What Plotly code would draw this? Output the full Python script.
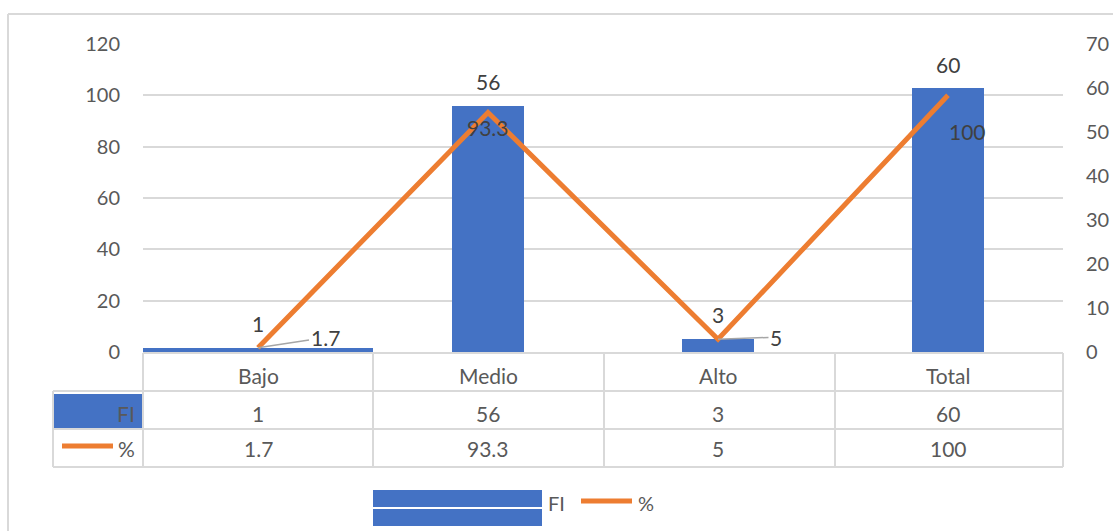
import plotly.graph_objects as go

# ---- data ----
categories = ["Bajo", "Medio", "Alto", "Total"]
fi_values = [1, 56, 3, 60]
pct_values = [1.7, 93.3, 5, 100]
left_ticks = [0, 20, 40, 60, 80, 100, 120]
right_ticks = [0, 10, 20, 30, 40, 50, 60, 70]

# ---- styles ----
BLUE = "#4472C4"
ORANGE = "#ED7D31"
GRID = "#D9D9D9"
TXT = "#595959"
LBL = "#404040"
FONT = "Lato"

W, H = 1113, 531
L, R, T, B = 143, 1063, 44, 352


def PX(px):
    return (px - L) / (R - L)


def PY(py):
    return (B - py) / (B - T)


def fmt(v):
    return f"{v:g}"


fig = go.Figure()

bar_widths = [1.0, 0.313, 0.313, 0.313]
fig.add_trace(go.Bar(x=categories, y=fi_values, name="FI", marker_color=BLUE,
                     marker_line_width=0, width=bar_widths, yaxis="y",
                     showlegend=False, hoverinfo="skip"))
fig.add_trace(go.Scatter(x=categories, y=pct_values, name="%", mode="lines",
                         line=dict(color=ORANGE, width=5), yaxis="y2",
                         showlegend=False, hoverinfo="skip"))

annotations = []
shapes = []

# bar value labels
for c, v in zip(categories, fi_values):
    annotations.append(dict(x=c, y=v, xref="x", yref="y", text=str(v), showarrow=False,
                            yanchor="middle", yshift=24,
                            font=dict(family=FONT, size=21, color=LBL)))

# line value labels (offsets in pixels)
line_label_style = {
    "Bajo": dict(arrow=True, ax=67, ay=-10),
    "Medio": dict(arrow=False, dx=0, dy=-15),
    "Alto": dict(arrow=True, ax=58, ay=-2),
    "Total": dict(arrow=False, dx=19, dy=-36),
}
for c, v in zip(categories, pct_values):
    st = line_label_style[c]
    if st["arrow"]:
        annotations.append(dict(x=c, y=v, xref="x", yref="y2", text=fmt(v), showarrow=True,
                                ax=st["ax"], ay=st["ay"], arrowhead=0, arrowwidth=1.5,
                                arrowcolor="#A6A6A6", standoff=0,
                                font=dict(family=FONT, size=21, color=LBL)))
    else:
        annotations.append(dict(x=c, y=v, xref="x", yref="y2", text=fmt(v), showarrow=False,
                                yanchor="middle", xshift=st["dx"], yshift=st["dy"],
                                font=dict(family=FONT, size=21, color=LBL)))

# data table texts
for i, c in enumerate(categories):
    annotations.append(dict(x=c, y=PY(375), xref="x", yref="paper", text=c, showarrow=False,
                            yanchor="middle", font=dict(family=FONT, size=21, color=TXT)))
    annotations.append(dict(x=c, y=PY(413), xref="x", yref="paper", text=str(fi_values[i]),
                            yanchor="middle", showarrow=False,
                            font=dict(family=FONT, size=21, color=TXT)))
    annotations.append(dict(x=c, y=PY(448), xref="x", yref="paper", text=fmt(pct_values[i]),
                            yanchor="middle", showarrow=False,
                            font=dict(family=FONT, size=21, color=TXT)))

# table legend keys
shapes.append(dict(type="rect", xref="paper", yref="paper", x0=PX(53), x1=PX(143),
                   y0=PY(429), y1=PY(394), fillcolor=BLUE, line=dict(width=0), layer="below"))
shapes.append(dict(type="line", xref="paper", yref="paper", x0=PX(62), x1=PX(113),
                   y0=PY(446), y1=PY(446), line=dict(color=ORANGE, width=5)))
annotations.append(dict(x=PX(137), y=PY(413), xref="paper", yref="paper", text="FI",
                        xanchor="right", yanchor="middle", showarrow=False,
                        font=dict(family=FONT, size=21, color=TXT)))
annotations.append(dict(x=PX(137), y=PY(448), xref="paper", yref="paper", text="%",
                        xanchor="right", yanchor="middle", showarrow=False,
                        font=dict(family=FONT, size=21, color=TXT)))

# table grid lines
hlines = [(353, 143, 1063), (391, 53, 1063), (429, 53, 1063), (467, 53, 1063)]
for y, x0, x1 in hlines:
    shapes.append(dict(type="line", xref="paper", yref="paper", x0=PX(x0), x1=PX(x1),
                       y0=PY(y), y1=PY(y), line=dict(color=GRID, width=2)))
vlines = [(53, 391, 467), (143, 353, 467), (373, 353, 467), (604, 353, 467),
          (835, 353, 467), (1063, 353, 467)]
for x, y0, y1 in vlines:
    shapes.append(dict(type="line", xref="paper", yref="paper", x0=PX(x), x1=PX(x),
                       y0=PY(y0), y1=PY(y1), line=dict(color=GRID, width=2)))

# chart border (top & left)
shapes.append(dict(type="line", xref="paper", yref="paper", x0=PX(8), x1=PX(1113),
                   y0=PY(14), y1=PY(14), line=dict(color=GRID, width=2)))
shapes.append(dict(type="line", xref="paper", yref="paper", x0=PX(8), x1=PX(8),
                   y0=PY(14), y1=PY(531), line=dict(color=GRID, width=2)))

# bottom legend
shapes.append(dict(type="rect", xref="paper", yref="paper", x0=PX(373), x1=PX(542),
                   y0=PY(507), y1=PY(490), fillcolor=BLUE, line=dict(width=0)))
shapes.append(dict(type="rect", xref="paper", yref="paper", x0=PX(373), x1=PX(542),
                   y0=PY(526), y1=PY(509), fillcolor=BLUE, line=dict(width=0)))
shapes.append(dict(type="line", xref="paper", yref="paper", x0=PX(581), x1=PX(632),
                   y0=PY(501), y1=PY(501), line=dict(color=ORANGE, width=5)))
annotations.append(dict(x=PX(546), y=PY(503), xref="paper", yref="paper", text="FI",
                        xanchor="left", yanchor="middle", showarrow=False,
                        font=dict(family=FONT, size=20, color=TXT)))
annotations.append(dict(x=PX(636), y=PY(503), xref="paper", yref="paper", text="%",
                        xanchor="left", yanchor="middle", showarrow=False,
                        font=dict(family=FONT, size=20, color=TXT)))

fig.update_layout(
    width=W, height=H,
    margin=dict(l=L, r=W - R, t=T, b=H - B, pad=0),
    paper_bgcolor="white", plot_bgcolor="white",
    bargap=0,
    xaxis=dict(type="category", range=[-0.5, 3.5], showticklabels=False, showgrid=False,
               zeroline=False, showline=False, ticks="", automargin=False),
    yaxis=dict(side="right", range=[0, 70], tickvals=right_ticks, showgrid=False,
               zeroline=False, showline=False, ticks="", ticklabelstandoff=22,
               automargin=False,
               tickfont=dict(family=FONT, size=20, color=TXT)),
    yaxis2=dict(side="left", overlaying="y", range=[0, 120], tickvals=left_ticks,
                showgrid=True, gridcolor=GRID, gridwidth=1.5, zeroline=False,
                showline=False, ticks="", ticklabelstandoff=22, automargin=False,
                tickfont=dict(family=FONT, size=20, color=TXT)),
    annotations=annotations,
    shapes=shapes,
    font=dict(family=FONT, color=TXT),
)

fig.write_html("out.html")
